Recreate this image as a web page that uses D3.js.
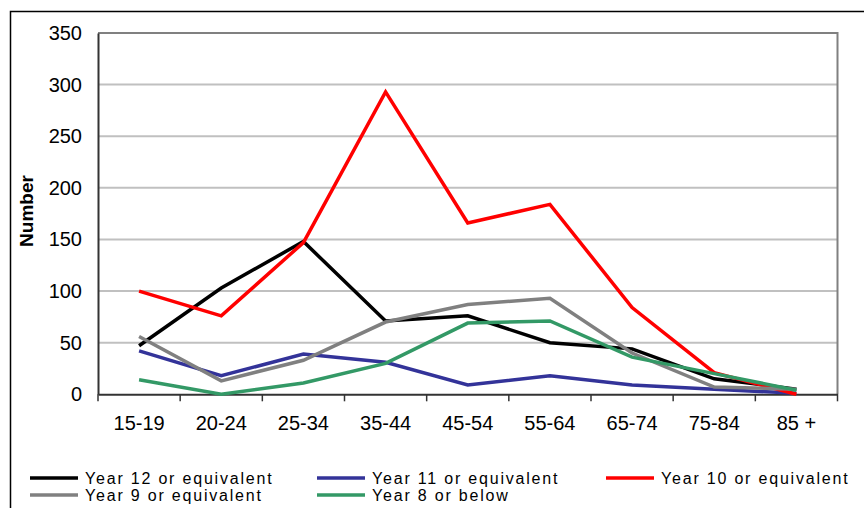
<!DOCTYPE html>
<html>
<head>
<meta charset="utf-8">
<script src="https://cdn.jsdelivr.net/npm/d3@7"></script>
<style>
  html, body { margin: 0; padding: 0; background: #fff; }
  svg { display: block; font-family: "Liberation Sans", Arial, sans-serif; }
</style>
</head>
<body>
<svg id="chart" width="864" height="508"></svg>
<script>
// Age groups along the horizontal axis
const ageGroups = ["15-19", "20-24", "25-34", "35-44", "45-54", "55-64", "65-74", "75-84", "85 +"];

// Number of people by highest year of school completed
const year12 = [47, 103, 148, 71, 76, 50, 44, 15, 5];
const year11 = [42, 18, 39, 31, 9, 18, 9, 5, 1];
const year10 = [100, 76, 147, 293, 166, 184, 84, 21, 0];
const year9  = [56, 13, 33, 70, 87, 93, 40, 7, 5];
const year8  = [14, 0, 11, 30, 69, 71, 36, 20, 4];

const seriesNames = ["Year 12 or equivalent", "Year 11 or equivalent", "Year 10 or equivalent",
                     "Year 9 or equivalent", "Year 8 or below"];
const yTicks = [0, 50, 100, 150, 200, 250, 300, 350];
const yTitle = "Number";

const seriesColors = ["#000000", "#333399", "#ff0000", "#808080", "#339966"];
const series = [year12, year11, year10, year9, year8].map((values, i) => ({
  name: seriesNames[i], color: seriesColors[i], values
}));

const svg = d3.select("#chart");
const plot = { left: 98, right: 837.5, top: 33, bottom: 394.3 };

// Outer chart frame (continues past the right and bottom edges)
svg.append("rect")
  .attr("x", 10.5).attr("y", 11.5)
  .attr("width", 900).attr("height", 600)
  .attr("fill", "none").attr("stroke", "#000").attr("stroke-width", 1.5);

const x = d3.scaleBand().domain(ageGroups).range([plot.left, plot.right]);
const y = d3.scaleLinear().domain([0, 350]).range([plot.bottom, plot.top]);

// Horizontal gridlines
svg.append("g")
  .selectAll("line")
  .data(yTicks.filter(v => v > 0))
  .join("line")
  .attr("x1", plot.left).attr("x2", plot.right)
  .attr("y1", d => y(d)).attr("y2", d => y(d))
  .attr("stroke", d => d === 350 ? "#808080" : "#c0c0c0")
  .attr("stroke-width", 2);

// Right border of the plot area
svg.append("line")
  .attr("x1", plot.right).attr("x2", plot.right)
  .attr("y1", plot.top - 1).attr("y2", plot.bottom)
  .attr("stroke", "#808080").attr("stroke-width", 2);

// Y axis
const yAxis = svg.append("g")
  .attr("transform", `translate(${plot.left},0)`)
  .call(d3.axisLeft(y).tickValues(yTicks).tickSize(0).tickPadding(16).tickSizeOuter(0));
yAxis.select(".domain").attr("stroke", "#333").attr("stroke-width", 2);
yAxis.selectAll("text").attr("font-size", 20).attr("fill", "#000")
  .attr("font-family", "'Liberation Sans', Arial, sans-serif");

// X axis with ticks on category boundaries
const xAxis = svg.append("g")
  .attr("transform", `translate(0,${plot.bottom})`)
  .call(d3.axisBottom(x).tickSize(0).tickSizeOuter(0));
xAxis.select(".domain").attr("stroke", "#333").attr("stroke-width", 2);
xAxis.selectAll("text")
  .attr("y", 22).attr("dy", "0.71em")
  .attr("font-size", 20).attr("fill", "#000")
  .attr("font-family", "'Liberation Sans', Arial, sans-serif");
const boundaries = ageGroups.map(d => x(d)).concat([x.range()[1]]);
xAxis.append("g").selectAll("line")
  .data(boundaries)
  .join("line")
  .attr("x1", d => d).attr("x2", d => d)
  .attr("y1", 0).attr("y2", 7)
  .attr("stroke", "#333").attr("stroke-width", 1.5);

// Y axis title
svg.append("text")
  .attr("transform", "translate(33,211) rotate(-90)")
  .attr("text-anchor", "middle")
  .attr("font-size", 19).attr("font-weight", "bold")
  .text(yTitle);

// Series lines
const line = d3.line()
  .x((d, i) => x(ageGroups[i]) + x.bandwidth() / 2)
  .y(d => y(d));

svg.append("g")
  .selectAll("path")
  .data(series)
  .join("path")
  .attr("d", d => line(d.values))
  .attr("fill", "none")
  .attr("stroke", d => d.color)
  .attr("stroke-width", 3.5)
  .attr("stroke-linejoin", "miter");

// Legend: three columns, two rows
const legendCols = [30, 317, 606];
const legendRows = [478, 495];
const legend = svg.append("g")
  .selectAll("g")
  .data(series)
  .join("g")
  .attr("transform", (d, i) => `translate(${legendCols[i % 3]},${legendRows[Math.floor(i / 3)]})`);
legend.append("line")
  .attr("x1", 0).attr("x2", 48)
  .attr("y1", 0).attr("y2", 0)
  .attr("stroke", d => d.color).attr("stroke-width", 3.5);
legend.append("text")
  .attr("x", 55).attr("y", 5.5)
  .attr("font-size", 16)
  .attr("letter-spacing", 1.8)
  .attr("fill", "#000")
  .text(d => d.name);
</script>
</body>
</html>
